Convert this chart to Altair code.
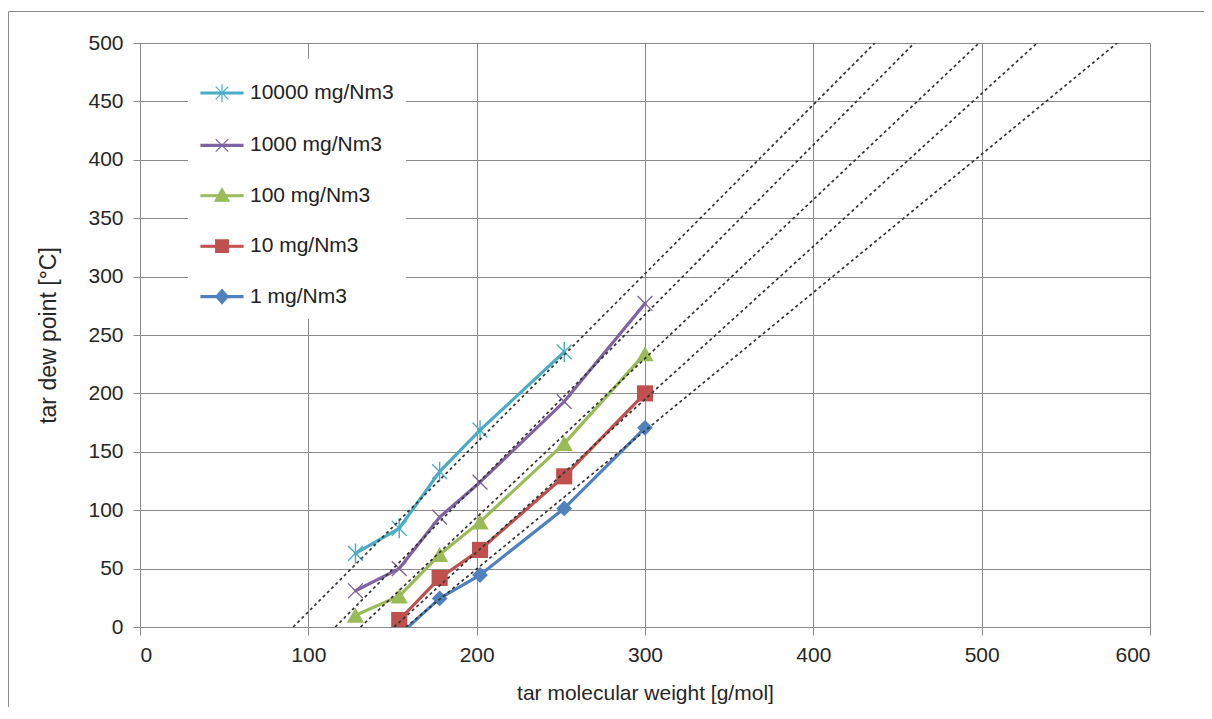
import altair as alt
import pandas as pd

# ---------------- data ----------------
mol_weight = [128, 154, 178, 202, 252, 300]
series_names = ["10000 mg/Nm3", "1000 mg/Nm3", "100 mg/Nm3", "10 mg/Nm3", "1 mg/Nm3"]
dew_10000 = [63, 84.5, 133, 168.5, 235.5, None]
dew_1000 = [31, 50, 94, 124, 193, 277]
dew_100 = [10, 26.5, 62, 90, 157, 234]
dew_10 = [None, 6, 42, 66, 129, 200]
dew_1 = [None, -7, 24.5, 44.5, 101.5, 170.5]

# dashed trend lines: molecular weight where each line meets 0 °C and 500 °C
trend_x_at_0 = [91, 116, 131, 151, 158]
trend_x_at_500 = [436.5, 460, 498.5, 533, 580.5]
trend_y_ends = [0, 500]

x_ticks = [0, 100, 200, 300, 400, 500, 600]
y_ticks = [0, 50, 100, 150, 200, 250, 300, 350, 400, 450, 500]

# ---------------- styles ----------------
colors = ["#4BACC6", "#8064A2", "#9BBB59", "#C0504D", "#4F81BD"]
FONT = "Liberation Sans"
GRID = "#8a8a8a"

marker_styles = [
    dict(shape="M-1,-1L1,1M-1,1L1,-1M0,-1.35V1.35", filled=False, strokeWidth=1.4, size=220),
    dict(shape="M-1,-1L1,1M-1,1L1,-1", filled=False, strokeWidth=1.4, size=220),
    dict(shape="triangle-up", filled=True, size=300),
    dict(shape="square", filled=True, size=260),
    dict(shape="diamond", filled=True, size=250),
]

bar = "M-1,-0.045H1V0.045H-1Z"
legend_paths = [
    bar + "M-0.3,-0.3L0.3,0.3M-0.3,0.3L0.3,-0.3M0,-0.42V0.42",
    bar + "M-0.3,-0.3L0.3,0.3M-0.3,0.3L0.3,-0.3",
    bar + "M0,-0.36L0.34,0.26H-0.34Z",
    bar + "M-0.3,-0.3H0.3V0.3H-0.3Z",
    bar + "M0,-0.34L0.3,0L0,0.34L-0.3,0Z",
]

# ---------------- tables ----------------
rows = []
for name, vals in zip(series_names, [dew_10000, dew_1000, dew_100, dew_10, dew_1]):
    for mw, v in zip(mol_weight, vals):
        if v is not None:
            rows.append({"series": name, "mw": mw, "temp": v})
df = pd.DataFrame(rows)

trend_rows = []
for name, x0, x1 in zip(series_names, trend_x_at_0, trend_x_at_500):
    trend_rows.append({"series": name, "mw": x0, "temp": trend_y_ends[0]})
    trend_rows.append({"series": name, "mw": x1, "temp": trend_y_ends[1]})
trend_df = pd.DataFrame(trend_rows)

legend_df = pd.DataFrame({"series": series_names})

# ---------------- encodings ----------------
xscale = alt.Scale(domain=[0, 600], nice=False, zero=False)
yscale = alt.Scale(domain=[0, 500], nice=False)

x_enc = alt.X(
    "mw:Q", scale=xscale,
    axis=alt.Axis(values=x_ticks, title="tar molecular weight [g/mol]", tickSize=8,
                  labelPadding=9, titleY=66, titleBaseline="middle"),
)
y_enc = alt.Y(
    "temp:Q", scale=yscale,
    axis=alt.Axis(values=y_ticks, title="tar dew point [°C]", tickSize=7,
                  labelPadding=10, titleX=-92, titleY=292, titleBaseline="middle",
                  titleFontSize=23),
)

border = alt.Chart(pd.DataFrame({"k": [0]})).mark_rect(
    fillOpacity=0, stroke="#8c8c8c", strokeWidth=1
).encode(
    x=alt.value(-131.5), x2=alt.value(1100), y=alt.value(-31.5), y2=alt.value(720)
)

series_layers = []
for name, col, st in zip(series_names[::-1], colors[::-1], marker_styles[::-1]):
    base = alt.Chart(df).transform_filter(alt.datum.series == name)
    ln = base.mark_line(color=col, strokeWidth=3.2, clip=True, strokeJoin="round", strokeCap="round")
    series_layers.append(ln.encode(x=x_enc, y=y_enc))
    if st["filled"]:
        mk = base.mark_point(shape=st["shape"], filled=True, color=col, size=st["size"],
                             opacity=1, clip=True)
    else:
        mk = base.mark_point(shape=st["shape"], filled=False, color=col, size=st["size"],
                             opacity=1, strokeWidth=st["strokeWidth"], clip=True)
    series_layers.append(mk.encode(x=x_enc, y=y_enc))

trend = alt.Chart(trend_df).mark_line(
    color="#333333", strokeWidth=1.7, strokeDash=[3, 3], clip=True
).encode(x=x_enc, y=y_enc, detail="series:N")

leg = alt.Legend(
    title=None, orient="none", legendX=48, legendY=16, padding=12, fillColor="white",
    symbolSize=1764, symbolStrokeWidth=1.2, labelFontSize=21, labelFont=FONT,
    labelColor="#222222", labelOffset=6, rowPadding=18.4, labelLimit=400,
)
# legend-only layer: its own symbols are placed outside the drawing
legend_layer = alt.Chart(legend_df).mark_point(filled=True, opacity=1, clip=True).encode(
    x=alt.value(-4000), y=alt.value(-4000),
    shape=alt.Shape("series:N", scale=alt.Scale(domain=series_names, range=legend_paths), legend=leg),
    fill=alt.Fill("series:N", scale=alt.Scale(domain=series_names, range=colors), legend=leg),
    stroke=alt.Stroke("series:N", scale=alt.Scale(domain=series_names, range=colors), legend=leg),
)

chart = alt.layer(border, *series_layers, trend, legend_layer).properties(
    width=1010, height=584,
    autosize=alt.AutoSizeParams(type="none"),
    padding={"left": 132, "top": 35, "right": 54, "bottom": 80},
).configure_view(
    stroke="transparent"
).configure_axis(
    labelFont=FONT, titleFont=FONT, labelFontSize=21, titleFontSize=21,
    labelColor="#262626", titleColor="#262626", titleFontWeight="normal",
    gridColor=GRID, domainColor=GRID, tickColor=GRID, gridOpacity=1,
)

chart.save("out.html", embed_options={"renderer": "svg", "actions": False})
